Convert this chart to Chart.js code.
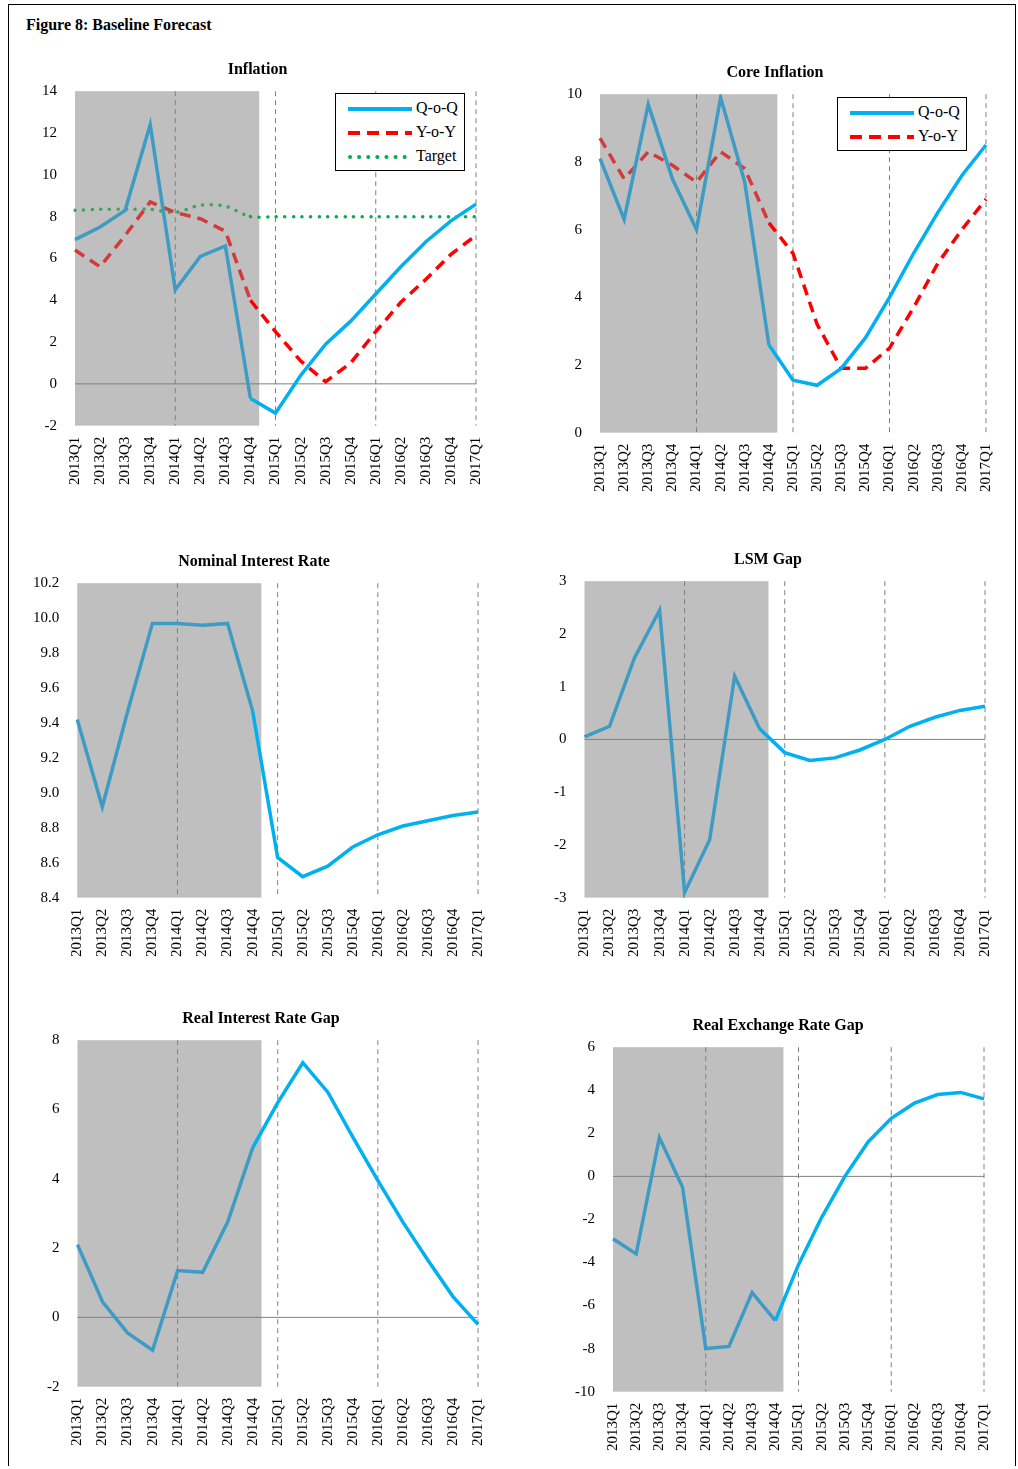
<!DOCTYPE html>
<html><head><meta charset="utf-8">
<script src="https://cdn.jsdelivr.net/npm/chart.js@4.4.0/dist/chart.umd.min.js"></script>
<style>
body{margin:0;background:#fff;font-family:"Liberation Serif",serif;}
#frame{position:absolute;left:8px;top:4px;width:1008px;height:1462px;border:1.5px solid #000;border-bottom:none;box-sizing:border-box;}
#fig{position:absolute;left:26px;top:16px;font-weight:bold;font-size:16px;}
.box{position:absolute;}
.leg{position:absolute;border:1.5px solid #000;background:#fff;font-size:16px;padding:2px 6px 2px 12px;}
.leg div{height:24px;line-height:24px;white-space:nowrap;}
.leg svg{vertical-align:middle;margin-right:4px;}
</style></head><body>
<div id="frame"></div>
<div id="fig">Figure 8: Baseline Forecast</div>
<div class="box" style="left:32px;top:60px;width:465px;height:428px"><canvas id="c1"></canvas></div>
<div class="box" style="left:557px;top:63px;width:450px;height:432px"><canvas id="c2"></canvas></div>
<div class="box" style="left:23px;top:552px;width:476px;height:408px"><canvas id="c3"></canvas></div>
<div class="box" style="left:544px;top:550px;width:462px;height:410px"><canvas id="c4"></canvas></div>
<div class="box" style="left:37px;top:1009px;width:462px;height:440px"><canvas id="c5"></canvas></div>
<div class="box" style="left:565px;top:1016px;width:440px;height:438px"><canvas id="c6"></canvas></div>

<div class="leg" style="left:335px;top:93px;">
<div><svg width="64" height="10"><line x1="0" y1="5" x2="64" y2="5" stroke="#00B0F0" stroke-width="4"/></svg>Q-o-Q</div>
<div><svg width="64" height="10"><line x1="0" y1="5" x2="64" y2="5" stroke="#FF0000" stroke-width="4" stroke-dasharray="12,7"/></svg>Y-o-Y</div>
<div><svg width="64" height="10"><line x1="2" y1="5" x2="64" y2="5" stroke="#00B050" stroke-width="4" stroke-dasharray="0.1,9" stroke-linecap="round"/></svg>Target</div>
</div>
<div class="leg" style="left:837px;top:97px;">
<div><svg width="64" height="10"><line x1="0" y1="5" x2="64" y2="5" stroke="#00B0F0" stroke-width="4"/></svg>Q-o-Q</div>
<div><svg width="64" height="10"><line x1="0" y1="5" x2="64" y2="5" stroke="#FF0000" stroke-width="4" stroke-dasharray="12,7"/></svg>Y-o-Y</div>
</div>

<script>
const quarters = ['2013Q1','2013Q2','2013Q3','2013Q4','2014Q1','2014Q2','2014Q3','2014Q4','2015Q1','2015Q2','2015Q3','2015Q4','2016Q1','2016Q2','2016Q3','2016Q4','2017Q1'];

const inflQoQ = [6.9, 7.5, 8.3, 12.4, 4.5, 6.1, 6.6, -0.7, -1.4, 0.4, 1.9, 3.0, 4.3, 5.6, 6.8, 7.8, 8.6];
const inflYoY = [6.4, 5.6, 7.1, 8.7, 8.2, 7.9, 7.3, 4.0, 2.5, 1.1, 0.1, 1.0, 2.5, 3.9, 5.0, 6.2, 7.1];
const inflTarget = [8.3, 8.35, 8.35, 8.35, 8.2, 8.55, 8.5, 8.0, 8.0, 8.0, 8.0, 8.0, 8.0, 8.0, 8.0, 8.0, 8.0];
const coreQoQ = [8.1, 6.3, 9.7, 7.5, 6.0, 9.9, 7.4, 2.6, 1.55, 1.4, 1.9, 2.8, 4.0, 5.3, 6.5, 7.6, 8.5];
const coreYoY = [8.7, 7.5, 8.3, 7.9, 7.4, 8.3, 7.8, 6.2, 5.3, 3.2, 1.9, 1.9, 2.5, 3.7, 5.0, 6.0, 6.9];
const nominalRate = [9.42, 8.92, 9.46, 9.97, 9.97, 9.96, 9.97, 9.47, 8.63, 8.52, 8.58, 8.69, 8.76, 8.81, 8.84, 8.87, 8.89];
const lsmGap = [0.05, 0.25, 1.55, 2.45, -2.9, -1.9, 1.2, 0.2, -0.25, -0.4, -0.35, -0.2, 0.0, 0.25, 0.42, 0.55, 0.63];
const realRateGap = [2.1, 0.45, -0.45, -0.95, 1.35, 1.3, 2.75, 4.9, 6.2, 7.35, 6.5, 5.2, 3.95, 2.75, 1.65, 0.6, -0.2];
const reerGap = [-2.9, -3.6, 1.8, -0.5, -8.0, -7.9, -5.4, -6.7, -4.1, -1.9, 0.0, 1.6, 2.7, 3.4, 3.8, 3.9, 3.6];

const histEnd = 7.35;      // shaded history ends just after 2014Q4
const vLines = [4, 8, 12, 16];

const decor = {
  id: 'decor',
  beforeDatasetsDraw(chart) {
    const {ctx, chartArea: a, scales: {x, y}} = chart;
    ctx.save();
    ctx.fillStyle = '#BFBFBF';
    const x0 = x.getPixelForValue(0), x1 = x.getPixelForValue(histEnd);
    ctx.fillRect(x0, a.top, x1 - x0, a.bottom - a.top);
    ctx.strokeStyle = '#808080';
    ctx.lineWidth = 1;
    ctx.setLineDash([5, 4]);
    vLines.forEach(i => {
      const px = x.getPixelForValue(i);
      ctx.beginPath(); ctx.moveTo(px, a.top); ctx.lineTo(px, a.bottom); ctx.stroke();
    });
    ctx.setLineDash([]);
    if (y.min < 0 && y.max > 0) {
      const py = y.getPixelForValue(0);
      ctx.beginPath(); ctx.moveTo(x0, py); ctx.lineTo(a.right, py); ctx.stroke();
    }
    ctx.restore();
  }
};

function solid(data) {
  return {data, borderWidth: 3.5, pointRadius: 0, tension: 0, borderColor: '#00B0F0',
    segment: {borderColor: c => c.p0DataIndex < 7 ? '#3E9CC4' : '#00B0F0'}};
}
function dashed(data) {
  return {data, borderWidth: 3.5, pointRadius: 0, tension: 0, borderDash: [11, 7], borderColor: '#FF0000',
    segment: {borderColor: c => c.p0DataIndex < 7 ? '#D33B3B' : '#FF0000'}};
}
function dotted(data) {
  return {data, borderWidth: 3.5, pointRadius: 0, tension: 0.3, borderDash: [0.1, 8.5], borderCapStyle: 'round',
    borderColor: '#00B050', segment: {borderColor: c => c.p0DataIndex < 7 ? '#3DA35D' : '#00B050'}};
}

const font = {family: 'Liberation Serif', size: 15};
function make(id, title, datasets, min, max, step, dec) {
  new Chart(document.getElementById(id), {
    type: 'line',
    data: {labels: quarters, datasets},
    plugins: [decor],
    options: {
      responsive: true, maintainAspectRatio: false, animation: false,
      layout: {padding: {right: 14}},
      plugins: {
        legend: {display: false}, tooltip: {enabled: false},
        title: {display: true, text: title, color: '#000', font: {family: 'Liberation Serif', size: 16, weight: 'bold'}, padding: {top: 0, bottom: 12}}
      },
      scales: {
        x: {offset: false, grid: {display: false}, border: {display: false},
            ticks: {color: '#000', font, minRotation: 90, maxRotation: 90, autoSkip: false}},
        y: {min, max, grid: {display: false}, border: {display: false},
            ticks: {color: '#000', font, padding: 10, stepSize: step, callback: v => dec ? v.toFixed(dec) : v}}
      }
    }
  });
}

make('c1', 'Inflation', [solid(inflQoQ), dashed(inflYoY), dotted(inflTarget)], -2, 14, 2, 0);
make('c2', 'Core Inflation', [solid(coreQoQ), dashed(coreYoY)], 0, 10, 2, 0);
make('c3', 'Nominal Interest Rate', [solid(nominalRate)], 8.4, 10.2, 0.2, 1);
make('c4', 'LSM Gap', [solid(lsmGap)], -3, 3, 1, 0);
make('c5', 'Real Interest Rate Gap', [solid(realRateGap)], -2, 8, 2, 0);
make('c6', 'Real Exchange Rate Gap', [solid(reerGap)], -10, 6, 2, 0);
</script>
</body></html>
